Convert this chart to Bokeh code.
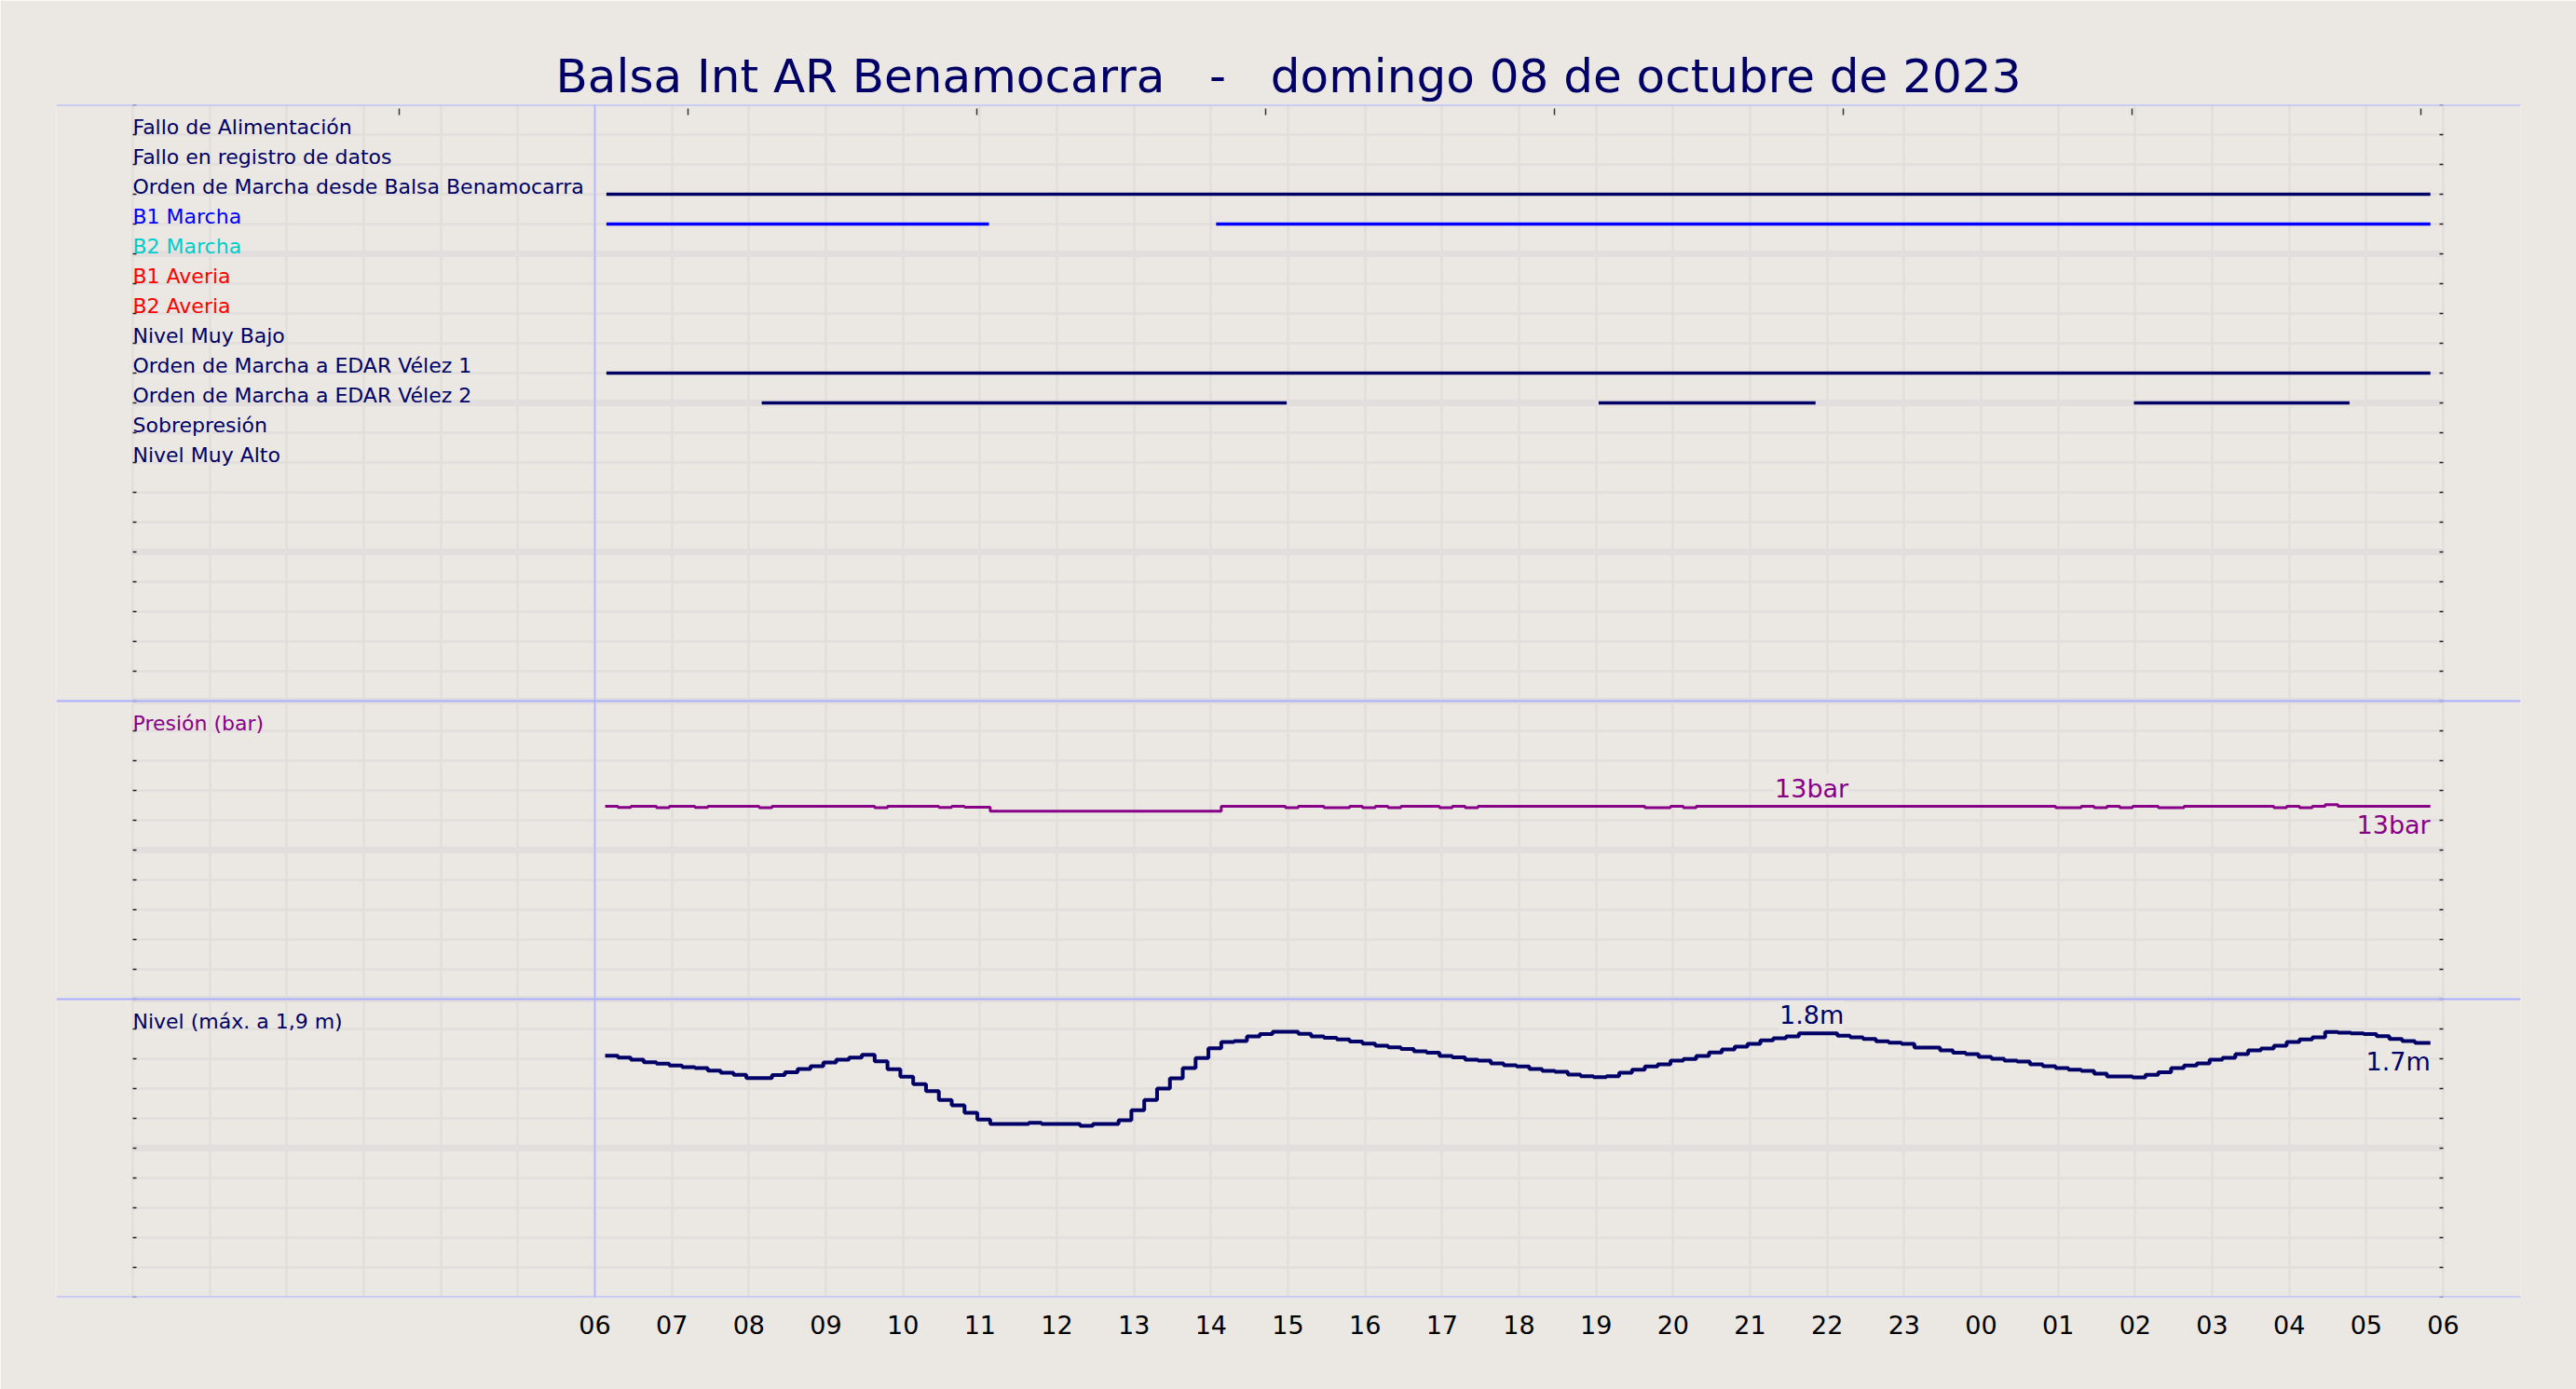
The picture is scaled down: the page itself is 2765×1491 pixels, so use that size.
import pandas as pd
from bokeh.plotting import figure
from bokeh.models import (Range1d, LinearAxis, DatetimeAxis, FixedTicker, Grid, Span,
                          ColumnDataSource, LabelSet, DatetimeTickFormatter,
                          CustomJSTickFormatter)
from bokeh.core.properties import value
from bokeh.embed import file_html
from bokeh.resources import INLINE

# ---------------------------------------------------------------- data
TITLE = "Balsa Int AR Benamocarra\u00a0\u00a0\u00a0-\u00a0\u00a0\u00a0domingo 08 de octubre de 2023"
DAY_START = "2023-10-08 00:00"
DAY_END = "2023-10-09 06:00"
FIRST_SAMPLE = "2023-10-08 06:08"
LAST_DRAWN = "2023-10-09 05:50"
SAMPLE_MINUTES = 10

HOUR_GRID = list(range(0, 31))          # hourly grid lines (hours from DAY_START)
HOUR_LABELS = list(range(6, 31))        # labelled hours
TOP_TICK_HOURS = [3.46, 7.21, 10.96, 14.71, 18.46, 22.21, 25.96, 29.71]

SIGNAL_NAMES = [
    "Fallo de Alimentación",
    "Fallo en registro de datos",
    "Orden de Marcha desde Balsa Benamocarra",
    "B1 Marcha",
    "B2 Marcha",
    "B1 Averia",
    "B2 Averia",
    "Nivel Muy Bajo",
    "Orden de Marcha a EDAR Vélez 1",
    "Orden de Marcha a EDAR Vélez 2",
    "Sobrepresión",
    "Nivel Muy Alto",
]
SIGNAL_COLORS = ["#000066", "#000066", "#000066", "#0000ff", "#00cccc", "#ff0000",
                 "#ff0000", "#000066", "#000066", "#000066", "#000066", "#000066"]
SIGNAL_LEVELS = [19, 18, 17, 16, 15, 14, 13, 12, 11, 10, 9, 8]
SIGNAL_ON = {
    "Orden de Marcha desde Balsa Benamocarra": [("2023-10-08 06:09", "2023-10-09 05:50")],
    "B1 Marcha": [("2023-10-08 06:09", "2023-10-08 11:07"),
                  ("2023-10-08 14:04", "2023-10-09 05:50")],
    "Orden de Marcha a EDAR Vélez 1": [("2023-10-08 06:09", "2023-10-09 05:50")],
    "Orden de Marcha a EDAR Vélez 2": [("2023-10-08 08:10", "2023-10-08 14:59"),
                                       ("2023-10-08 19:02", "2023-10-08 21:51"),
                                       ("2023-10-09 01:59", "2023-10-09 04:47")],
}
PANEL_TITLES = [("pres", 18, "Presión (bar)", "#880088"),
                ("lvl", 1.8, "Nivel (máx. a 1,9 m)", "#000066")]

LEVEL_M = [
    1.621, 1.608, 1.594, 1.577, 1.567, 1.554, 1.544, 1.538, 1.521, 1.506,
    1.492, 1.471, 1.471, 1.490, 1.510, 1.531, 1.550, 1.575, 1.594, 1.608,
    1.627, 1.583, 1.529, 1.479, 1.429, 1.383, 1.323, 1.288, 1.238, 1.192,
    1.163, 1.163, 1.163, 1.171, 1.163, 1.163, 1.163, 1.150, 1.163, 1.163,
    1.188, 1.254, 1.323, 1.400, 1.469, 1.538, 1.604, 1.671, 1.713, 1.719,
    1.750, 1.765, 1.781, 1.781, 1.767, 1.750, 1.740, 1.729, 1.715, 1.702,
    1.688, 1.677, 1.665, 1.650, 1.640, 1.619, 1.610, 1.594, 1.588, 1.569,
    1.556, 1.548, 1.531, 1.519, 1.513, 1.494, 1.483, 1.477, 1.483, 1.506,
    1.527, 1.548, 1.563, 1.588, 1.598, 1.619, 1.642, 1.663, 1.681, 1.700,
    1.723, 1.738, 1.750, 1.771, 1.771, 1.771, 1.754, 1.744, 1.733, 1.717,
    1.708, 1.700, 1.675, 1.675, 1.656, 1.640, 1.631, 1.613, 1.600, 1.588,
    1.581, 1.563, 1.550, 1.538, 1.527, 1.519, 1.500, 1.481, 1.481, 1.475,
    1.492, 1.510, 1.538, 1.554, 1.569, 1.594, 1.606, 1.631, 1.656, 1.669,
    1.688, 1.713, 1.729, 1.744, 1.779, 1.775, 1.771, 1.765, 1.752, 1.733,
    1.719, 1.706,
]
PRESSURE_BAR = [
    12.93, 12.86, 12.93, 12.93, 12.85, 12.93, 12.93, 12.86, 12.93, 12.93,
    12.93, 12.93, 12.85, 12.93, 12.93, 12.93, 12.93, 12.93, 12.93, 12.93,
    12.93, 12.85, 12.93, 12.93, 12.93, 12.93, 12.86, 12.93, 12.87, 12.87,
    12.61, 12.61, 12.61, 12.61, 12.61, 12.61, 12.61, 12.61, 12.61, 12.61,
    12.61, 12.61, 12.61, 12.61, 12.61, 12.61, 12.61, 12.61, 12.93, 12.93,
    12.93, 12.93, 12.93, 12.85, 12.93, 12.93, 12.85, 12.85, 12.93, 12.85,
    12.93, 12.85, 12.93, 12.93, 12.93, 12.85, 12.93, 12.85, 12.93, 12.93,
    12.93, 12.93, 12.93, 12.93, 12.93, 12.93, 12.93, 12.93, 12.93, 12.93,
    12.93, 12.85, 12.85, 12.93, 12.85, 12.93, 12.93, 12.93, 12.93, 12.93,
    12.93, 12.93, 12.93, 12.93, 12.93, 12.93, 12.93, 12.93, 12.93, 12.93,
    12.93, 12.93, 12.93, 12.93, 12.93, 12.93, 12.93, 12.93, 12.93, 12.93,
    12.93, 12.93, 12.93, 12.85, 12.85, 12.93, 12.85, 12.93, 12.85, 12.93,
    12.93, 12.85, 12.85, 12.93, 12.93, 12.93, 12.93, 12.93, 12.93, 12.93,
    12.85, 12.93, 12.85, 12.93, 13.05, 12.93, 12.93, 12.93, 12.93, 12.93,
    12.93, 12.93,
]
PEAK_LABEL_INDEX = 94

# ---------------------------------------------------------------- style
FONT = "DejaVu Sans"
BG = "#ebe7e2"
GRID = "#e2dedd"
SEP = "#aab0ff"
VLINE = "#b4b4ff"
NAVY = "#000066"
PURPLE = "#880088"
TICK = "#222222"

FRAME_W, FRAME_H = 2645, 1280
BORDER_L, BORDER_R, BORDER_T, BORDER_B = 60, 60, 112, 99
PAD_L_PX, PAD_R_PX = 82, 83
TOTAL_ROWS = 40
PANELS = [("sig", 20, 1.0), ("pres", 10, 2.0), ("lvl", 0, 0.2)]  # name, bottom row, units/row
SEPARATOR_ROWS = [0, 10, 20, 40]


def ms(s):
    return pd.Timestamp(s).value / 1e6


HOUR_MS = 3600e3
x0, x1 = ms(DAY_START), ms(DAY_END)
grid_px = FRAME_W - PAD_L_PX - PAD_R_PX
span = x1 - x0
x_range = Range1d(x0 - span * PAD_L_PX / grid_px, x1 + span * PAD_R_PX / grid_px)

times = [pd.Timestamp(FIRST_SAMPLE) + pd.Timedelta(minutes=SAMPLE_MINUTES * k)
         for k in range(len(LEVEL_M))]
end_t = pd.Timestamp(LAST_DRAWN)
step_x = times + [end_t]

p = figure(frame_width=FRAME_W, frame_height=FRAME_H, x_range=x_range,
           y_range=Range1d(0, TOTAL_ROWS), x_axis_type=None, y_axis_type=None,
           output_backend="svg", toolbar_location=None,
           min_border_left=BORDER_L, min_border_right=BORDER_R, min_border_top=BORDER_T,
           min_border_bottom=BORDER_B, background_fill_color=BG, border_fill_color=BG,
           outline_line_color=None, title=TITLE)
p.title.align = "center"
p.title.text_font = FONT
p.title.text_font_size = "50px"
p.title.text_font_style = "normal"
p.title.text_color = NAVY
p.title.standoff = 4

p.extra_y_ranges = {name: Range1d(-b * u, (TOTAL_ROWS - b) * u) for name, b, u in PANELS}

# grids
p.add_layout(Grid(dimension=0, ticker=FixedTicker(ticks=[x0 + h * HOUR_MS for h in HOUR_GRID]),
                  grid_line_color=GRID, grid_line_width=2.5), "center")
p.add_layout(Grid(dimension=1, ticker=FixedTicker(ticks=list(range(TOTAL_ROWS + 1))),
                  grid_line_color=GRID, grid_line_width=2.5, cross_bounds=(x0, x1)), "center")
p.add_layout(Grid(dimension=1, ticker=FixedTicker(ticks=list(range(0, TOTAL_ROWS + 1, 5))),
                  grid_line_color=GRID, grid_line_width=7, cross_bounds=(x0, x1)), "center")

for r in SEPARATOR_ROWS:
    p.add_layout(Span(location=r, dimension="width", line_color=SEP, line_width=2))
p.add_layout(Span(location=x0 + HOUR_LABELS[0] * HOUR_MS, dimension="height",
                  line_color=VLINE, line_width=1.7))

blank = CustomJSTickFormatter(code="return ''")
row_ticker = FixedTicker(ticks=list(range(TOTAL_ROWS + 1)))
for side, loc in (("left", x0), ("right", x1)):
    ax = LinearAxis(ticker=row_ticker, formatter=blank, fixed_location=loc,
                    axis_line_color=None, major_tick_in=4, major_tick_out=0,
                    major_tick_line_color=TICK, major_tick_line_width=1.5,
                    minor_tick_line_color=None)
    p.add_layout(ax, side)
top = LinearAxis(ticker=FixedTicker(ticks=[x0 + h * HOUR_MS for h in TOP_TICK_HOURS]),
                 formatter=blank, fixed_location=TOTAL_ROWS - 0.14,
                 axis_line_color=None, major_tick_in=7, major_tick_out=0,
                 major_tick_line_color="#333333", major_tick_line_width=1.5,
                 minor_tick_line_color=None)
p.add_layout(top, "above")

fmt = DatetimeTickFormatter(hours="%H", hourmin="%H", days="%H", minutes="%H", minsec="%H")
bottom = DatetimeAxis(ticker=FixedTicker(ticks=[x0 + h * HOUR_MS for h in HOUR_LABELS]),
                      formatter=fmt, axis_line_color=None, major_tick_line_color=None,
                      minor_tick_line_color=None, major_label_text_font=FONT,
                      major_label_text_font_size="27px", major_label_standoff=13,
                      major_label_text_color="#000000")
p.add_layout(bottom, "below")

# signal lines
seg = dict(x0=[], x1=[], y=[], color=[])
for name, lvl, col in zip(SIGNAL_NAMES, SIGNAL_LEVELS, SIGNAL_COLORS):
    for a, b in SIGNAL_ON.get(name, []):
        seg["x0"].append(pd.Timestamp(a))
        seg["x1"].append(pd.Timestamp(b))
        seg["y"].append(lvl)
        seg["color"].append(col)
p.segment(x0="x0", x1="x1", y0="y", y1="y", line_color="color", line_width=3.5,
          source=ColumnDataSource(seg), y_range_name="sig")

# signal labels and panel titles
lab = ColumnDataSource(dict(x=[pd.Timestamp(DAY_START)] * len(SIGNAL_NAMES), y=SIGNAL_LEVELS,
                            text=SIGNAL_NAMES, color=SIGNAL_COLORS))
p.add_layout(LabelSet(x="x", y="y", text="text", text_color="color", source=lab,
                      y_range_name="sig", text_font=value(FONT), text_font_size="22px",
                      text_baseline="alphabetic", text_align="left", y_offset=1))
for rng, yv, txt, col in PANEL_TITLES:
    src = ColumnDataSource(dict(x=[pd.Timestamp(DAY_START)], y=[yv], t=[txt]))
    p.add_layout(LabelSet(x="x", y="y", text="t", source=src, y_range_name=rng,
                          text_color=col, text_font=value(FONT), text_font_size="22px",
                          text_baseline="alphabetic", text_align="left", y_offset=1))

# series
p.step(x=step_x, y=PRESSURE_BAR + [PRESSURE_BAR[-1]], mode="after", y_range_name="pres",
       line_color=PURPLE, line_width=3)
p.step(x=step_x, y=LEVEL_M + [LEVEL_M[-1]], mode="after", y_range_name="lvl",
       line_color=NAVY, line_width=4)

# value labels
def add_labels(vals, rng, unit, fmtstr, color):
    peak = ColumnDataSource(dict(x=[times[PEAK_LABEL_INDEX]], y=[vals[PEAK_LABEL_INDEX]],
                                 t=[fmtstr.format(vals[PEAK_LABEL_INDEX]) + unit]))
    last = ColumnDataSource(dict(x=[end_t], y=[vals[-1]], t=[fmtstr.format(vals[-1]) + unit]))
    p.add_layout(LabelSet(x="x", y="y", text="t", source=peak, y_range_name=rng,
                          text_align="center", text_baseline="alphabetic", y_offset=10,
                          text_font=value(FONT), text_font_size="27px", text_color=color,
                          background_fill_color=BG))
    p.add_layout(LabelSet(x="x", y="y", text="t", source=last, y_range_name=rng,
                          text_align="right", text_baseline="alphabetic", y_offset=-29,
                          text_font=value(FONT), text_font_size="27px", text_color=color,
                          background_fill_color=BG))

add_labels(PRESSURE_BAR, "pres", "bar", "{:.0f}", PURPLE)
add_labels(LEVEL_M, "lvl", "m", "{:.1f}", NAVY)

open("out.html", "w").write(file_html(p, INLINE))
